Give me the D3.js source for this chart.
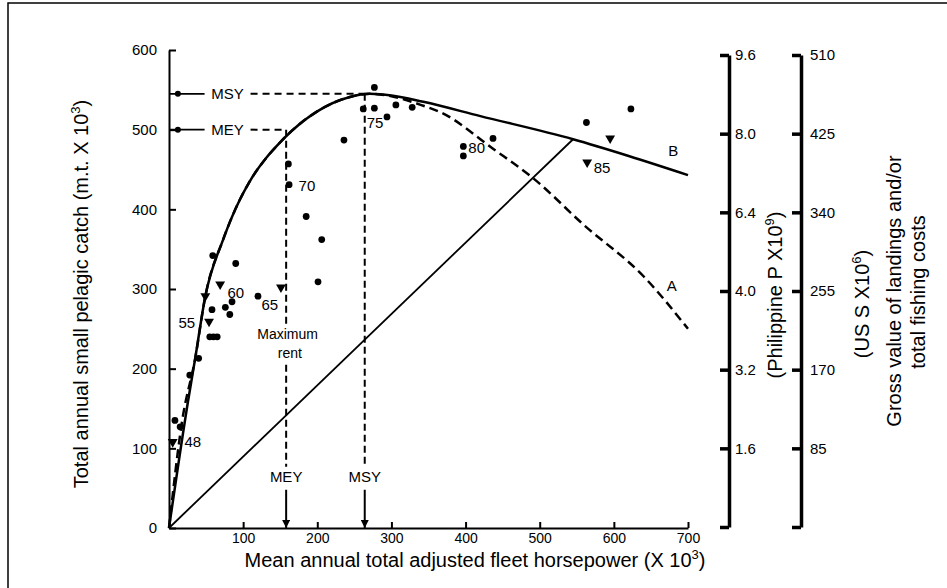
<!DOCTYPE html>
<html>
<head>
<meta charset="utf-8">
<script src="https://cdn.jsdelivr.net/npm/d3@7"></script>
<style>
body {margin:0; background:#fff;}
svg {display:block; font-family:"Liberation Sans", Arial, sans-serif;}
</style>
</head>
<body>
<svg id="chart" width="947" height="588"></svg>
<script>
//tick values and labels
const xTicks = [100, 200, 300, 400, 500, 600, 700]
const yTicks = [0, 100, 200, 300, 400, 500, 600]
const pesoTicks = [0, 1.6, 3.2, 4.8, 6.4, 8.0, 9.6]
const pesoLabels = ["", "1.6", "3.2", "4.0", "6.4", "8.0", "9.6"]
const usdTicks = [0, 85, 170, 255, 340, 425, 510]
const usdLabels = ["", "85", "170", "255", "340", "425", "510"]

//curve B (solid) : horsepower, catch
const curveB = [[0,0],[26,161],[35,211],[49,291],[73,362],[96,413],[107,432],[154,488],[200,523],
  [244,541],[271,545],[300,543],[343,535],[420,517],[545,488],[620,467],[700,443]]

//curve A (dashed)
const curveA = [[0,0],[18,136],[35,211],[49,291],[73,362],[96,413],[107,432],[154,488],[200,523],
  [244,541],[271,545],[300,542],[343,530],[366,522],[437,476],[490,440],[560,380],[640,316],[700,250]]

//total cost line
const costLine = [[0,0],[545,488]]

//MSY and MEY
const msy = {x: 264, y: 545}
const mey = {x: 158, y: 500}

//yearly catch observations [horsepower, catch, marker]
const catchPoints = [
  [5,108,"t"],[8,135,"c"],[15,127,"c"],[28,192,"c"],[40,213,"c"],[55,240,"c"],[60,240,"c"],[65,240,"c"],
  [54,259,"t"],[58,274,"c"],[49,291,"t"],[59,342,"c"],[69,306,"t"],[76,277,"c"],[82,268,"c"],[85,284,"c"],
  [90,332,"c"],[120,291,"c"],[151,302,"t"],[161,457,"c"],[162,431,"c"],[185,391,"c"],[206,362,"c"],
  [201,309,"c"],[236,487,"c"],[262,526,"c"],[277,527,"c"],[277,553,"c"],[294,516,"c"],[306,531,"c"],
  [328,528,"c"],[397,479,"c"],[397,467,"c"],[437,489,"c"],[563,509,"c"],[623,526,"c"],[595,489,"t"],
  [564,459,"t"]]

//year labels next to the points
const yearLabels = [["48",32,108],["55",24,258],["60",90,296],["65",136,281],["70",186,430],
  ["75",278,509],["80",415,477],["85",584,453]]

const svg = d3.select('#chart')

//frame
svg.append('rect').attr('x', 8).attr('y', 3).attr('width', 980).attr('height', 620)
  .attr('fill', 'none').attr('stroke', '#000').attr('stroke-width', 1.5)

//scales
const x = d3.scaleLinear().domain([0, 700]).range([169, 688])
const y = d3.scaleLinear().domain([0, 600]).range([528, 50])
const yPeso = d3.scaleLinear().domain([0, 9.6]).range([527, 55])
const yUsd = d3.scaleLinear().domain([0, 510]).range([527, 55])

//left axis
const gLeft = svg.append('g').attr('transform', 'translate(169,0)')
  .call(d3.axisLeft(y).tickValues(yTicks).tickSize(-7).tickSizeOuter(0).tickPadding(12))
//bottom axis
const gBottom = svg.append('g').attr('transform', 'translate(0,528)')
  .call(d3.axisBottom(x).tickValues(xTicks).tickSize(-6).tickSizeOuter(0).tickPadding(5))
//right axes
const gPeso = svg.append('g').attr('transform', 'translate(729,0)')
  .call(d3.axisRight(yPeso).tickValues(pesoTicks).tickSize(-9).tickSizeOuter(0).tickPadding(6)
    .tickFormat((d, i) => pesoLabels[i]))
const gUsd = svg.append('g').attr('transform', 'translate(801,0)')
  .call(d3.axisRight(yUsd).tickValues(usdTicks).tickSize(-9).tickSizeOuter(0).tickPadding(9)
    .tickFormat((d, i) => usdLabels[i]))

;[gLeft, gBottom].forEach(g => {
  g.select('.domain').attr('stroke-width', 2)
  g.selectAll('.tick line').attr('stroke-width', 2)
})
;[gPeso, gUsd].forEach(g => {
  g.select('.domain').attr('stroke-width', 3.5)
  g.selectAll('.tick line').attr('stroke-width', 3.5)
})
svg.selectAll('.tick text').style('font-size', '15px').style('font-family', '"Liberation Sans", Arial, sans-serif').attr('fill', '#000')
gBottom.selectAll('.tick text').style('font-size', '14px')

//axis titles with superscripts
function title(tx, ty, rot, parts) {
  const t = svg.append('text').attr('transform', `translate(${tx},${ty}) rotate(${rot})`)
    .attr('text-anchor', 'middle').style('font-size', '20px')
  parts.forEach(p => {
    const s = t.append('tspan').text(p[0])
    if (p[1] == 'sup') s.attr('dy', -8).style('font-size', '13px')
    if (p[1] == 'down') s.attr('dy', 8)
  })
}
title(88, 294, -90, [["Total annual small pelagic catch (m.t. X 10"], ["3", "sup"], [")", "down"]])
title(475, 567, 0, [["Mean annual total adjusted fleet horsepower (X 10"], ["3", "sup"], [")", "down"]])
title(782, 295, -90, [["(Philippine P X10"], ["9", "sup"], [")", "down"]])
title(869, 304, -90, [["(US S X10"], ["6", "sup"], [")", "down"]])
title(901, 291, -90, [["Gross value of landings and/or"]])
title(925, 292, -90, [["total fishing costs"]])

//lines
const line = d3.line().x(d => x(d[0])).y(d => y(d[1]))
const smooth = d3.line().x(d => x(d[0])).y(d => y(d[1])).curve(d3.curveMonotoneX)

svg.append('path').datum(costLine).attr('d', line)
  .attr('fill', 'none').attr('stroke', '#000').attr('stroke-width', 1.8)
svg.append('path').datum(curveA).attr('d', smooth)
  .attr('fill', 'none').attr('stroke', '#000').attr('stroke-width', 2.5).attr('stroke-dasharray', '9,5')
svg.append('path').datum(curveB).attr('d', smooth)
  .attr('fill', 'none').attr('stroke', '#000').attr('stroke-width', 2.5)

//arrow marker
svg.append('defs').append('marker').attr('id', 'arrow')
  .attr('viewBox', '0 0 10 10').attr('refX', 10).attr('refY', 5)
  .attr('markerWidth', 4).attr('markerHeight', 4).attr('orient', 'auto')
  .append('path').attr('d', 'M0,0L10,5L0,10Z').attr('fill', '#000')

//MSY / MEY guides
function guide(p, name, gap) {
  //solid stub with a dot on the y axis
  svg.append('circle').attr('cx', x(12)).attr('cy', y(p.y)).attr('r', 3)
  svg.append('line').attr('x1', x(0)).attr('x2', x(48)).attr('y1', y(p.y)).attr('y2', y(p.y))
    .attr('stroke', '#000').attr('stroke-width', 1.8)
  svg.append('text').attr('x', x(57)).attr('y', y(p.y)).attr('dy', '0.36em').text(name).style('font-size', '15px')
  //horizontal dashes up to the curve
  svg.append('line').attr('x1', x(110)).attr('x2', x(p.x)).attr('y1', y(p.y)).attr('y2', y(p.y))
    .attr('stroke', '#000').attr('stroke-width', 2).attr('stroke-dasharray', '7,5')
  //vertical dashes down to the label
  const segs = gap ? [[p.y, gap[0]], [gap[1], 77]] : [[p.y, 77]]
  segs.forEach(s => {
    svg.append('line').attr('x1', x(p.x)).attr('x2', x(p.x)).attr('y1', y(s[0])).attr('y2', y(s[1]))
      .attr('stroke', '#000').attr('stroke-width', 2).attr('stroke-dasharray', '7,4')
  })
  svg.append('text').attr('x', x(p.x)).attr('y', y(64)).attr('dy', '0.36em')
    .attr('text-anchor', 'middle').text(name).style('font-size', '15px')
  svg.append('line').attr('x1', x(p.x)).attr('x2', x(p.x)).attr('y1', y(48)).attr('y2', y(0))
    .attr('stroke', '#000').attr('stroke-width', 2).attr('marker-end', 'url(#arrow)')
}
guide(msy, "MSY", null)
guide(mey, "MEY", [253, 205])

//points
svg.append('g').selectAll('path').data(catchPoints).join('path')
  .attr('transform', d => `translate(${x(d[0])},${y(d[1])})` + (d[2] == 't' ? ' rotate(180)' : ''))
  .attr('d', d => d[2] == 't' ? d3.symbol(d3.symbolTriangle, 42)() : d3.symbol(d3.symbolCircle, 36)())
  .attr('fill', '#000')

//year labels
svg.append('g').selectAll('text').data(yearLabels).join('text')
  .attr('x', d => x(d[1])).attr('y', d => y(d[2])).attr('dy', '0.36em')
  .attr('text-anchor', 'middle').text(d => d[0]).style('font-size', '15px')

//curve names and the rent note
svg.append('text').attr('x', x(678)).attr('y', y(304)).attr('dy', '0.36em').attr('text-anchor', 'middle')
  .text('A').style('font-size', '15px')
svg.append('text').attr('x', x(680)).attr('y', y(474)).attr('dy', '0.36em').attr('text-anchor', 'middle')
  .text('B').style('font-size', '15px')
svg.append('text').attr('x', x(160)).attr('y', y(243)).attr('dy', '0.36em').attr('text-anchor', 'middle')
  .text('Maximum').style('font-size', '14px')
svg.append('text').attr('x', x(163)).attr('y', y(220)).attr('dy', '0.36em').attr('text-anchor', 'middle')
  .text('rent').style('font-size', '14px')
</script>
</body>
</html>
